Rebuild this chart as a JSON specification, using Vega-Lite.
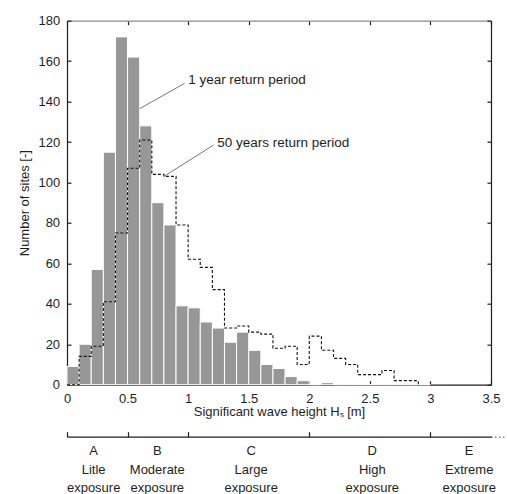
{
  "$schema": "https://vega.github.io/schema/vega-lite/v6.json",
  "padding": {"left": 18, "top": 14.7, "right": 0, "bottom": 0},
  "datasets": {
    "bins": [
      {"hs_from": 0.0, "hs_to": 0.1, "one_year": 9, "fifty_years": 0},
      {"hs_from": 0.1, "hs_to": 0.2, "one_year": 20, "fifty_years": 14},
      {"hs_from": 0.2, "hs_to": 0.3, "one_year": 57, "fifty_years": 19},
      {"hs_from": 0.3, "hs_to": 0.4, "one_year": 115, "fifty_years": 41},
      {"hs_from": 0.4, "hs_to": 0.5, "one_year": 172, "fifty_years": 75},
      {"hs_from": 0.5, "hs_to": 0.6, "one_year": 162, "fifty_years": 107},
      {"hs_from": 0.6, "hs_to": 0.7, "one_year": 128, "fifty_years": 121},
      {"hs_from": 0.7, "hs_to": 0.8, "one_year": 90, "fifty_years": 104},
      {"hs_from": 0.8, "hs_to": 0.9, "one_year": 79, "fifty_years": 103},
      {"hs_from": 0.9, "hs_to": 1.0, "one_year": 39, "fifty_years": 79},
      {"hs_from": 1.0, "hs_to": 1.1, "one_year": 38, "fifty_years": 62},
      {"hs_from": 1.1, "hs_to": 1.2, "one_year": 31, "fifty_years": 58},
      {"hs_from": 1.2, "hs_to": 1.3, "one_year": 28, "fifty_years": 47},
      {"hs_from": 1.3, "hs_to": 1.4, "one_year": 21, "fifty_years": 28},
      {"hs_from": 1.4, "hs_to": 1.5, "one_year": 26, "fifty_years": 29},
      {"hs_from": 1.5, "hs_to": 1.6, "one_year": 17, "fifty_years": 26},
      {"hs_from": 1.6, "hs_to": 1.7, "one_year": 10, "fifty_years": 25},
      {"hs_from": 1.7, "hs_to": 1.8, "one_year": 8, "fifty_years": 18},
      {"hs_from": 1.8, "hs_to": 1.9, "one_year": 4, "fifty_years": 19},
      {"hs_from": 1.9, "hs_to": 2.0, "one_year": 2, "fifty_years": 10},
      {"hs_from": 2.0, "hs_to": 2.1, "one_year": 0, "fifty_years": 24},
      {"hs_from": 2.1, "hs_to": 2.2, "one_year": 1, "fifty_years": 17},
      {"hs_from": 2.2, "hs_to": 2.3, "one_year": 0, "fifty_years": 13},
      {"hs_from": 2.3, "hs_to": 2.4, "one_year": 0, "fifty_years": 10},
      {"hs_from": 2.4, "hs_to": 2.5, "one_year": 0, "fifty_years": 5},
      {"hs_from": 2.5, "hs_to": 2.6, "one_year": 0, "fifty_years": 5},
      {"hs_from": 2.6, "hs_to": 2.7, "one_year": 0, "fifty_years": 7},
      {"hs_from": 2.7, "hs_to": 2.8, "one_year": 0, "fifty_years": 2},
      {"hs_from": 2.8, "hs_to": 2.9, "one_year": 0, "fifty_years": 2},
      {"hs_from": 2.9, "hs_to": 3.0, "one_year": 0, "fifty_years": 0}
    ],
    "notes": [
      {"label": "1 year return period", "x_tip": 0.6, "y_tip": 136.5, "x_end": 0.97, "y_end": 149, "x_text": 1.0, "y_text": 148.7},
      {"label": "50 years return period", "x_tip": 0.8, "y_tip": 103, "x_end": 1.21, "y_end": 118.5, "x_text": 1.24, "y_text": 117.3}
    ],
    "classes": [
      {"label": "A\nLitle\nexposure", "centre": 0.22},
      {"label": "B\nModerate\nexposure", "centre": 0.745},
      {"label": "C\nLarge\nexposure", "centre": 1.52},
      {"label": "D\nHigh\nexposure", "centre": 2.52},
      {"label": "E\nExtreme\nexposure", "centre": 3.32}
    ]
  },
  "spacing": 12,
  "vconcat": [
    {
      "width": 424,
      "height": 364,
      "data": {"name": "bins"},
      "layer": [
        {
          "mark": {"type": "bar", "color": "#979797", "stroke": "white", "strokeWidth": 1},
          "encoding": {
            "x": {
              "field": "hs_from",
              "type": "quantitative",
              "scale": {"domain": [0, 3.5], "nice": false},
              "axis": {
                "orient": "bottom",
                "values": [0, 0.5, 1, 1.5, 2, 2.5, 3, 3.5],
                "format": "~g",
                "labelFlush": false,
                "tickSize": -4,
                "labelPadding": 11.5,
                "title": "Significant wave height Hₛ [m]",
                "titlePadding": 0.5
              }
            },
            "x2": {"field": "hs_to"},
            "y": {
              "field": "one_year",
              "type": "quantitative",
              "scale": {"domain": [0, 180], "nice": false},
              "axis": {
                "values": [0, 20, 40, 60, 80, 100, 120, 140, 160, 180],
                "tickSize": -4,
                "labelPadding": 11.4,
                "title": "Number of sites [-]",
                "titlePadding": 6
              }
            },
            "y2": {"datum": 0}
          }
        },
        {
          "mark": {"type": "line", "interpolate": "step-after", "color": "#111111", "strokeDash": [3, 2], "strokeWidth": 1.1},
          "encoding": {
            "x": {
              "field": "hs_from",
              "type": "quantitative",
              "axis": {
                "orient": "top",
                "values": [0, 0.5, 1, 1.5, 2, 2.5, 3, 3.5],
                "labels": false,
                "tickSize": -4,
                "domainColor": "#8a8a8a",
                "title": null
              }
            },
            "y": {
              "field": "fifty_years",
              "type": "quantitative",
              "axis": {
                "orient": "right",
                "values": [0, 20, 40, 60, 80, 100, 120, 140, 160, 180],
                "labels": false,
                "tickSize": -4,
                "title": null
              }
            }
          }
        },
        {
          "data": {"name": "notes"},
          "mark": {"type": "rule", "color": "#555555", "strokeWidth": 0.8},
          "encoding": {
            "x": {"field": "x_tip", "type": "quantitative", "axis": null},
            "x2": {"field": "x_end"},
            "y": {"field": "y_tip", "type": "quantitative", "axis": null},
            "y2": {"field": "y_end"}
          }
        },
        {
          "data": {"name": "notes"},
          "mark": {"type": "text", "align": "left", "baseline": "alphabetic", "fontSize": 13.5, "color": "#1e1e1e"},
          "encoding": {
            "x": {"field": "x_text", "type": "quantitative", "axis": null},
            "y": {"field": "y_text", "type": "quantitative", "axis": null},
            "text": {"field": "label"}
          }
        }
      ],
      "resolve": {"axis": {"x": "independent", "y": "independent"}}
    },
    {
      "width": 424,
      "height": 1,
      "layer": [
        {
          "data": {"name": "classes"},
          "mark": {"type": "text", "baseline": "top", "dy": 8, "lineBreak": "\n", "lineHeight": 18.6, "fontSize": 13, "color": "#1e1e1e"},
          "encoding": {
            "x": {
              "field": "centre",
              "type": "quantitative",
              "scale": {"domain": [0, 3.5], "nice": false},
              "axis": {
                "orient": "top",
                "values": [0, 0.5, 1, 2, 3],
                "labels": false,
                "tickSize": 5,
                "title": null
              }
            },
            "text": {"field": "label"}
          }
        },
        {
          "data": {"values": [{"from": 3.5, "to": 3.62}]},
          "mark": {"type": "rule", "color": "#444444", "strokeDash": [1.5, 2.5], "strokeWidth": 1},
          "encoding": {
            "x": {"field": "from", "type": "quantitative"},
            "x2": {"field": "to"}
          }
        }
      ]
    }
  ],
  "config": {
    "view": {"stroke": null},
    "font": "Liberation Sans",
    "axis": {
      "grid": false,
      "zindex": 1,
      "domainColor": "#1e1e1e",
      "domainWidth": 1.2,
      "tickColor": "#1e1e1e",
      "tickWidth": 1.2,
      "labelFont": "Liberation Sans",
      "labelFontSize": 13,
      "labelColor": "#1e1e1e",
      "titleFont": "Liberation Sans",
      "titleFontSize": 13,
      "titleFontWeight": "normal",
      "titleColor": "#1e1e1e"
    }
  }
}
